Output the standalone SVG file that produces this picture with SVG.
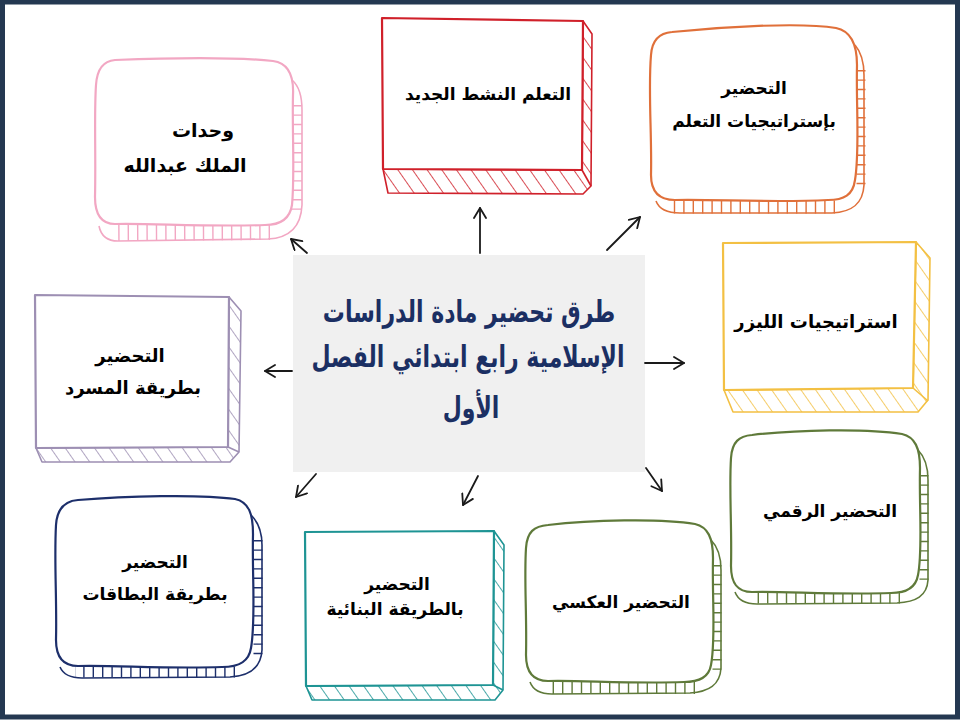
<svg xmlns="http://www.w3.org/2000/svg" width="960" height="720" viewBox="0 0 960 720">
<style>
.lbl{font-family:"DejaVu Sans",sans-serif;font-weight:bold;font-size:17px;fill:#000;text-anchor:middle}
.big{font-size:19px}
.mid{font-size:18px}
.ttl{font-family:"DejaVu Sans",sans-serif;font-weight:bold;font-size:22px;fill:#1b2f63;text-anchor:middle}
.main{fill:#fff;stroke-width:2.2;stroke-linejoin:round}
.band{fill:none;stroke-width:1.6;stroke-linejoin:round}
.tick{fill:none;stroke-dasharray:1.4 8}
.arr{fill:none;stroke:#1a1a1a;stroke-width:1.8;stroke-linecap:round;marker-end:url(#ah)}
</style>
<defs>
<marker id="ah" viewBox="0 0 14 14" refX="12" refY="7" markerWidth="14" markerHeight="14" markerUnits="userSpaceOnUse" orient="auto">
<path d="M2,1 L12,7 L2,13" fill="none" stroke="#1a1a1a" stroke-width="1.8" stroke-linecap="round" stroke-linejoin="round"/>
</marker>
<pattern id="hRed" width="12" height="12" patternUnits="userSpaceOnUse" patternTransform="rotate(-35)"><line x1="0" y1="0" x2="0" y2="12" stroke="#d0202a" stroke-width="1.6"/></pattern>
<pattern id="hYel" width="12" height="12" patternUnits="userSpaceOnUse" patternTransform="rotate(-35)"><line x1="0" y1="0" x2="0" y2="12" stroke="#f3c043" stroke-width="1.6"/></pattern>
<pattern id="hPur" width="12" height="12" patternUnits="userSpaceOnUse" patternTransform="rotate(-35)"><line x1="0" y1="0" x2="0" y2="12" stroke="#9d8fb3" stroke-width="1.6"/></pattern>
<pattern id="hTeal" width="12" height="12" patternUnits="userSpaceOnUse" patternTransform="rotate(-35)"><line x1="0" y1="0" x2="0" y2="12" stroke="#1e9494" stroke-width="1.6"/></pattern>
</defs>
<rect x="0" y="0" width="960" height="720" fill="#fff"/>
<rect x="2.5" y="2" width="955" height="715" fill="none" stroke="#243851" stroke-width="5"/>

<g id="center">
<rect x="293" y="255" width="352" height="217" fill="#f0f0f0"/>
<text class="ttl" transform="translate(469,322) scale(1,1.35)">طرق تحضير مادة الدراسات</text>
<text class="ttl" transform="translate(468,367) scale(1,1.35)">الإسلامية رابع ابتدائي الفصل</text>
<text class="ttl" transform="translate(471,418) scale(1,1.35)">الأول</text>
</g>

<g id="connectors">
<path class="arr" d="M480,253 L480,208"/>
<path class="arr" d="M607,250 L640,217"/>
<path class="arr" d="M307,253 L291,239"/>
<path class="arr" d="M645,363 L684,363"/>
<path class="arr" d="M292,371 L265,371"/>
<path class="arr" d="M316,474 L296,497"/>
<path class="arr" d="M478,476 L463,505"/>
<path class="arr" d="M646,468 L662,491"/>
</g>

<g id="node-pink" stroke="#f2a7c3">
<path class="tick" stroke-width="10" d="M297,105 L297,210"/>
<path class="tick" stroke-width="16" d="M270,232 L112,233"/>
<path class="band" d="M292,80 C299,86 302,95 302,110 L302,205 C301,226 290,238 268,239 L118,241 C108,241 101,236 99,226"/>
<path class="main" d="M115,60 C165,58 235,57 273,61 C288,63 294,75 293,95 C292,130 295,175 292,205 C290,218 282,225 265,225 C205,227 150,223 115,224 C101,224 95,214 95,197 C96,155 94,115 96,85 C97,69 103,61 115,60 Z"/>
<text class="lbl big" stroke="none" x="203" y="137">وحدات</text>
<text class="lbl big" stroke="none" x="185" y="172">الملك عبدالله</text>
</g>

<g id="node-red" stroke="#d0202a">
<path class="band" style="fill:url(#hRed)" d="M583,21 L592,34 L591,186 L583,194 L388,193 L383,169 L582,170 Z"/>
<path class="band" d="M582,170 L591,186"/>
<path class="main" d="M382,18 L583,21 L582,170 L383,169 Z"/>
<text class="lbl" stroke="none" x="488" y="100">التعلم النشط الجديد</text>
</g>

<g id="node-orange" stroke="#e0703a">
<path class="tick" stroke-width="9" d="M861,70 L861,190"/>
<path class="tick" stroke-width="13" d="M835,207 L672,207"/>
<path class="band" d="M855,45 C861,52 864,62 864,75 L864,185 C863,204 852,212 832,213 L680,213 C668,213 659,209 656,201"/>
<path class="main" d="M672,32 C720,27 800,22 836,28 C851,31 857,45 857,65 C856,105 860,150 855,180 C853,195 844,200 828,200 C770,203 715,199 675,200 C659,200 651,192 651,175 C652,135 648,90 651,55 C652,40 659,33 672,32 Z"/>
<text class="lbl" stroke="none" x="754" y="94">التحضير</text>
<text class="lbl" stroke="none" x="754" y="127">بإستراتيجيات التعلم</text>
</g>

<g id="node-yellow" stroke="#f3c043">
<path class="band" style="fill:url(#hYel)" d="M916,242 L930,258 L928,400 L918,412 L733,412 L724,390 L913,388 Z"/>
<path class="band" d="M913,388 L928,401"/>
<path class="main" d="M723,243 L916,242 L913,388 L724,390 Z"/>
<text class="lbl mid" stroke="none" x="816" y="328">استراتيجيات الليزر</text>
</g>

<g id="node-green-digital" stroke="#5f7a3a">
<path class="tick" stroke-width="9" d="M924,475 L924,585"/>
<path class="tick" stroke-width="11" d="M900,598 L750,598"/>
<path class="band" d="M918,450 C925,457 928,467 928,480 L928,580 C927,596 916,602 897,603 L757,604 C745,604 738,600 735,592"/>
<path class="main" d="M752,435 C795,430 865,428 902,434 C915,437 920,448 920,468 C919,508 923,550 918,575 C916,587 907,593 891,593 C835,595 785,591 752,592 C737,592 731,583 731,566 C732,526 729,490 731,458 C732,442 739,436 752,435 Z"/>
<text class="lbl" stroke="none" x="830" y="517">التحضير الرقمي</text>
</g>

<g id="node-green-reverse" stroke="#5f7a3a">
<path class="tick" stroke-width="9" d="M717,565 L717,672"/>
<path class="tick" stroke-width="12" d="M695,688 L545,688"/>
<path class="band" d="M711,540 C718,547 721,557 721,570 L721,668 C720,685 709,692 690,693 L552,694 C540,694 533,690 530,682"/>
<path class="main" d="M548,525 C590,520 660,518 695,524 C708,527 713,538 713,558 C712,598 716,640 711,665 C709,677 700,682 684,682 C630,684 580,680 548,681 C533,681 526,672 526,655 C527,615 524,580 526,548 C527,532 534,526 548,525 Z"/>
<text class="lbl" stroke="none" x="621" y="608">التحضير العكسي</text>
</g>

<g id="node-teal" stroke="#1e9494">
<path class="band" style="fill:url(#hTeal)" d="M494,531 L504,545 L503,690 L495,700 L312,700 L306,686 L493,685 Z"/>
<path class="band" d="M493,685 L503,690"/>
<path class="main" d="M305,532 L494,531 L493,685 L306,686 Z"/>
<text class="lbl" stroke="none" x="397" y="590">التحضير</text>
<text class="lbl" stroke="none" x="395" y="615">بالطريقة البنائية</text>
</g>

<g id="node-navy" stroke="#1d2f6b">
<path class="tick" stroke-width="9" d="M258,540 L258,655"/>
<path class="tick" stroke-width="11" d="M235,672 L75,672"/>
<path class="band" d="M251,515 C258,522 262,532 262,545 L262,650 C261,668 250,676 230,677 L82,678 C70,678 63,674 60,667"/>
<path class="main" d="M78,500 C125,496 200,494 235,499 C249,502 253,514 253,534 C252,575 256,620 251,648 C249,661 240,667 222,667 C165,669 115,665 78,666 C63,666 56,657 56,640 C57,600 54,560 56,525 C57,509 64,501 78,500 Z"/>
<text class="lbl" stroke="none" x="155" y="568">التحضير</text>
<text class="lbl" stroke="none" x="155" y="600">بطريقة البطاقات</text>
</g>

<g id="node-purple" stroke="#9d8fb3">
<path class="band" style="fill:url(#hPur)" d="M229,297 L241,311 L239,452 L230,462 L42,462 L36,448 L228,447 Z"/>
<path class="band" d="M228,447 L239,452"/>
<path class="main" d="M35,295 L229,297 L228,447 L36,448 Z"/>
<text class="lbl mid" stroke="none" x="130" y="362">التحضير</text>
<text class="lbl mid" stroke="none" x="133" y="394">بطريقة المسرد</text>
</g>
</svg>
